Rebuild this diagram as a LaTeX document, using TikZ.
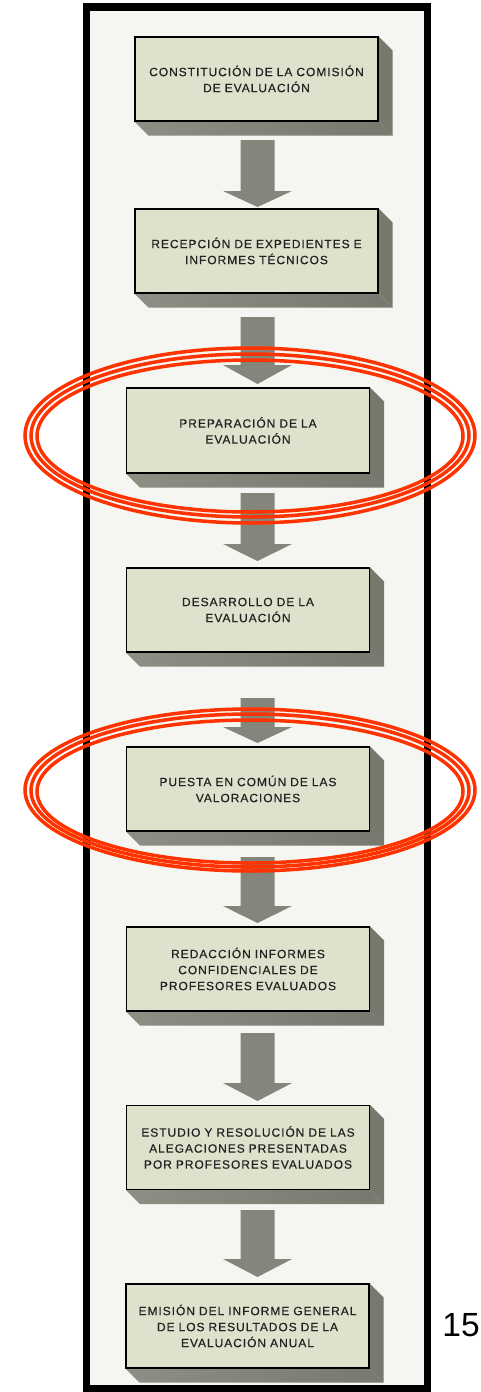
\documentclass[tikz,border=0pt]{standalone}
\usepackage{fontspec}
\usepackage{tikz}
\usetikzlibrary{backgrounds,calc}
\newfontfamily\boxfont[LetterSpace=8,FakeBold=0.4]{Liberation Sans}
\newfontfamily\numfont{Liberation Sans}
\definecolor{boxfill}{HTML}{DFE1CD}
\definecolor{shadelight}{HTML}{8E8F84}
\definecolor{shadedark}{HTML}{77786E}
\definecolor{arrowgrey}{HTML}{85867B}
\definecolor{framefill}{HTML}{F5F6F1}
\definecolor{markred}{HTML}{FF3300}
\definecolor{boxtext}{HTML}{222222}
\tikzset{
	stage/.style={draw=black, line width=1.2pt, fill=boxfill, minimum width=243pt, minimum height=84pt, text width=236pt, align=center, inner sep=0pt, font=\boxfont\fontsize{12}{16}\selectfont, text=boxtext},
	ring/.style={draw=markred, line width=3.5pt},
}
\newcommand{\boxshade}[1]{%
	\begin{scope}[on background layer]
	\shade [left color=shadelight, right color=shadedark] (#1.south west) -- (#1.south east) -- ++(14,14) -- ([shift={(14,14)}]#1.south west) -- cycle;
	\fill [shadedark] (#1.north east) -- ++(14,14) -- ([shift={(14,14)}]#1.south east) -- (#1.south east) -- cycle;
	\end{scope}}
\newcommand{\blockarrow}[3]{%
	\fill [arrowgrey] (240.5,#1) -- (274.5,#1) -- (274.5,#2) -- (292,#2) -- (257.5,#3) -- (223,#2) -- (240.5,#2) -- cycle;}
\begin{document}
\begin{tikzpicture}[x=1pt, y=-1pt]
		\useasboundingbox (0,0) rectangle (481,1392);
		\begin{scope}[on background layer]
		\fill [framefill] (86.5,7) rectangle (427.5,1389);
		\end{scope}
		\node [stage](constitucion) at (256.5,79) {CONSTITUCIÓN DE LA COMISIÓN\\DE EVALUACIÓN};
		\node [stage](recepcion) at (256.5,251) {RECEPCIÓN DE EXPEDIENTES E\\INFORMES TÉCNICOS};
		\node [stage, minimum height=85pt](preparacion) at (248,430.5) {PREPARACIÓN DE LA\\EVALUACIÓN};
		\node [stage](desarrollo) at (248,610) {DESARROLLO DE LA\\EVALUACIÓN};
		\node [stage](puesta) at (248,789) {PUESTA EN COMÚN DE LAS\\VALORACIONES};
		\node [stage](redaccion) at (248,969) {REDACCIÓN INFORMES\\CONFIDENCIALES DE\\PROFESORES EVALUADOS};
		\node [stage](estudio) at (248,1147.5) {ESTUDIO Y RESOLUCIÓN DE LAS\\ALEGACIONES PRESENTADAS\\POR PROFESORES EVALUADOS};
		\node [stage](emision) at (247.5,1326) {EMISIÓN DEL INFORME GENERAL\\DE LOS RESULTADOS DE LA\\EVALUACIÓN ANUAL};
		\foreach \b in {constitucion,recepcion,preparacion,desarrollo,puesta,redaccion,estudio,emision} {\boxshade{\b}}
		\blockarrow{140}{191}{207}
		\blockarrow{317}{365}{384}
		\blockarrow{493}{544}{561}
		\blockarrow{698}{727}{743}
		\blockarrow{857}{906}{923}
		\blockarrow{1033}{1083}{1101}
		\blockarrow{1210}{1259}{1277}
		\draw [line width=7.5pt] (86.5,7) rectangle (427.5,1389);
		\node [font=\numfont\fontsize{33.5}{36}\selectfont](page) at (461,1325) {15};
		\draw [ring] (250,435.5) ellipse [x radius=225pt, y radius=87.5pt];
		\draw [ring] (250,435.5) ellipse [x radius=219pt, y radius=81.5pt];
		\draw [ring] (250,436) ellipse [x radius=213pt, y radius=76pt];
		\draw [ring] (250,790) ellipse [x radius=225pt, y radius=81pt];
		\draw [ring] (250,790.5) ellipse [x radius=219pt, y radius=76.5pt];
		\draw [ring] (250,791.5) ellipse [x radius=213pt, y radius=71.5pt];
		\end{tikzpicture}
\end{document}
